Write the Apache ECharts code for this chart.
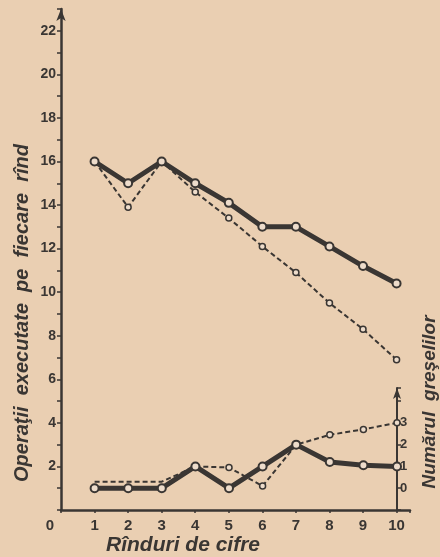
<!DOCTYPE html>
<html>
<head>
<meta charset="utf-8">
<script src="https://cdn.jsdelivr.net/npm/echarts@6/dist/echarts.min.js"></script>
<style>
  html, body { margin: 0; padding: 0; background: #eacfb2; }
  #chart { width: 440px; height: 557px; }
</style>
</head>
<body>
<div id="chart"></div>
<script>
// rindul de cifre (1..10)
const rows = [1, 2, 3, 4, 5, 6, 7, 8, 9, 10]
// operatii executate pe fiecare rind
const opsSolid = [16, 15, 16, 15, 14.1, 13, 13, 12.1, 11.2, 10.4]
const opsDashed = [16, 13.9, 16, 14.6, 13.4, 12.1, 10.9, 9.5, 8.3, 6.9]
// numarul greselilor
const errSolid = [0, 0, 0, 1, 0, 1, 2, 1.2, 1.05, 1]
const errDashed = [0.3, 0.3, 0.3, 1, 0.95, 0.1, 2, 2.45, 2.7, 3]

const ink = '#3a3633'
const paper = '#eddccb'
const font = 'Liberation Sans'

const pairs = (ys) => rows.map((x, i) => [x, ys[i]])

const chart = echarts.init(document.getElementById('chart'))

const solidLine = (data, xi, yi) => ({
  type: 'line',
  xAxisIndex: xi,
  yAxisIndex: yi,
  data: pairs(data),
  symbol: 'circle',
  symbolSize: 8,
  z: 3,
  lineStyle: { color: ink, width: 5 },
  itemStyle: { color: paper, borderColor: ink, borderWidth: 2 },
})

const dashedLine = (data, xi, yi, hideFirst) => ({
  type: 'line',
  xAxisIndex: xi,
  yAxisIndex: yi,
  data: pairs(data),
  symbol: 'circle',
  symbolSize: (v, p) => (p.dataIndex < hideFirst ? 0 : 6),
  z: 2,
  lineStyle: { color: ink, width: 2, type: [5, 3] },
  itemStyle: { color: paper, borderColor: ink, borderWidth: 1.5 },
})

const option = {
  backgroundColor: '#eacfb2',
  animation: false,
  grid: [
    { left: 61, right: 30, top: 9, bottom: 47 },
    { left: 61, right: 43, top: 388, bottom: 47 },
  ],
  xAxis: [
    {
      gridIndex: 0,
      type: 'value',
      min: 0,
      max: 10.4,
      interval: 1,
      splitLine: { show: false },
      axisLine: { lineStyle: { color: ink, width: 2.5 } },
      axisTick: { show: true, length: 3, lineStyle: { color: ink, width: 1.5 } },
      axisLabel: {
        color: ink,
        fontFamily: font,
        fontWeight: 'bold',
        fontSize: 15,
        margin: 8,
        formatter: (v) => (Number.isInteger(v) ? (v === 0 ? '{z|0}' : String(v)) : ''),
        rich: { z: { fontFamily: font, fontWeight: 'bold', fontSize: 15, color: ink, padding: [0, 22, 0, 0] } },
      },
    },
    { gridIndex: 1, type: 'value', min: 0, max: 10, show: false },
  ],
  yAxis: [
    {
      gridIndex: 0,
      type: 'value',
      min: 0,
      max: 23,
      interval: 1,
      splitLine: { show: false },
      axisLine: {
        show: true,
        symbol: ['none', 'arrow'],
        symbolSize: [7, 12],
        lineStyle: { color: ink, width: 2.5 },
      },
      axisTick: { show: true, length: 4, lineStyle: { color: ink, width: 1.5 } },
      axisLabel: {
        color: ink,
        fontFamily: font,
        fontWeight: 'bold',
        fontSize: 14,
        margin: 5,
        formatter: (v) => (v > 0 && v <= 22 && v % 2 === 0 ? String(v) : ''),
      },
    },
    {
      gridIndex: 1,
      type: 'value',
      position: 'right',
      min: -1,
      max: 4.6,
      interval: 1,
      splitLine: { show: false },
      axisLine: {
        show: true,
        onZero: false,
        symbol: ['none', 'arrow'],
        symbolSize: [6, 11],
        lineStyle: { color: ink, width: 2 },
      },
      axisTick: { show: true, length: 4, lineStyle: { color: ink, width: 1.5 } },
      axisLabel: {
        color: ink,
        fontFamily: font,
        fontWeight: 'bold',
        fontSize: 13,
        margin: 3,
        formatter: (v) => (v >= 0 && v <= 3 ? String(v) : ''),
      },
    },
  ],
  graphic: [
    {
      type: 'text',
      x: 22,
      y: 313,
      rotation: Math.PI / 2,
      style: {
        text: 'Operaţii  executate  pe  fiecare  rînd',
        font: 'italic bold 20px Liberation Sans',
        fill: ink,
        align: 'center',
        verticalAlign: 'middle',
      },
    },
    {
      type: 'text',
      x: 430,
      y: 402,
      rotation: Math.PI / 2,
      style: {
        text: 'Numărul  greşelilor',
        font: 'italic bold 19px Liberation Sans',
        fill: ink,
        align: 'center',
        verticalAlign: 'middle',
      },
    },
    {
      type: 'text',
      x: 183,
      y: 545,
      style: {
        text: 'Rînduri de cifre',
        font: 'italic bold 21px Liberation Sans',
        fill: ink,
        align: 'center',
        verticalAlign: 'middle',
      },
    },
  ],
  series: [
    dashedLine(opsDashed, 0, 0, 0),
    solidLine(opsSolid, 0, 0),
    dashedLine(errDashed, 1, 1, 3),
    solidLine(errSolid, 1, 1),
  ],
}

chart.setOption(option)
</script>
</body>
</html>
